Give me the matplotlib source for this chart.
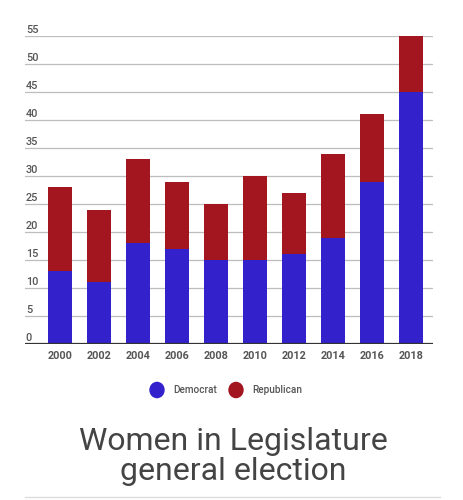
import matplotlib
matplotlib.use("Agg")
import matplotlib.pyplot as plt
import numpy as np

years = ["2000", "2002", "2004", "2006", "2008", "2010", "2012", "2014", "2016", "2018"]
democrat = [13, 11, 18, 17, 15, 15, 16, 19, 29, 45]
republican = [15, 13, 15, 12, 10, 15, 11, 15, 12, 10]
y_ticks = [0, 5, 10, 15, 20, 25, 30, 35, 40, 45, 50, 55]

BLUE = "#3322cc"
RED = "#a3151f"
GRID = "#bdbdbd"
TEXT = "#555555"

plt.rcParams["font.family"] = ["Roboto", "DejaVu Sans"]

W, H = 463, 500
fig = plt.figure(figsize=(W / 100, H / 100), dpi=100)

# plot area in pixel coords: left 25, right 433, zero at y=344, 55 at y=36
left, right, top, bottom = 25, 433, 36, 344
ax = fig.add_axes([left / W, 1 - bottom / H, (right - left) / W, (bottom - top) / H])

x = np.arange(len(years))
ax.bar(x, democrat, width=0.62, color=BLUE, zorder=3)
ax.bar(x, republican, width=0.62, bottom=democrat, color=RED, zorder=3)

ax.set_ylim(0, 55)
ax.set_xlim(-0.9, 9.56)
for v in y_ticks:
    if v > 0:
        ax.axhline(v, color=GRID, lw=0.9, zorder=1)
    ax.text(-0.88, v + 1.15, str(v), ha="left", va="center", fontsize=7.8,
            color=TEXT, fontweight="medium")
ax.axhline(0, color="#333333", lw=1.6, zorder=4)

ax.set_yticks([])
ax.set_xticks(x)
ax.set_xticklabels(years, fontsize=7.8, color=TEXT, fontweight="bold")
ax.tick_params(axis="x", length=0, pad=5)
for s in ax.spines.values():
    s.set_visible(False)

# legend
fig.patches.append(plt.Circle((157 / W, 1 - 390 / H), 7 / W, color=BLUE,
                              transform=fig.transFigure))
fig.patches.append(plt.Circle((236 / W, 1 - 390 / H), 7 / W, color=RED,
                              transform=fig.transFigure))
fig.text(173 / W, 1 - 390 / H, "Democrat", fontsize=7.2, color=TEXT,
         fontweight="medium", va="center", ha="left")
fig.text(252 / W, 1 - 390 / H, "Republican", fontsize=7.2, color=TEXT,
         fontweight="medium", va="center", ha="left")

# title
fig.text(0.503, 1 - 442 / H, "Women in Legislature", fontsize=23, color="#444444",
         ha="center", va="center")
fig.text(0.503, 1 - 472 / H, "general election", fontsize=23, color="#444444",
         ha="center", va="center")

fig.add_artist(plt.Line2D([25 / W, 440 / W], [1 - 497 / H, 1 - 497 / H],
                          color="#dddddd", lw=1, transform=fig.transFigure))

fig.savefig("out.png", dpi=100)
